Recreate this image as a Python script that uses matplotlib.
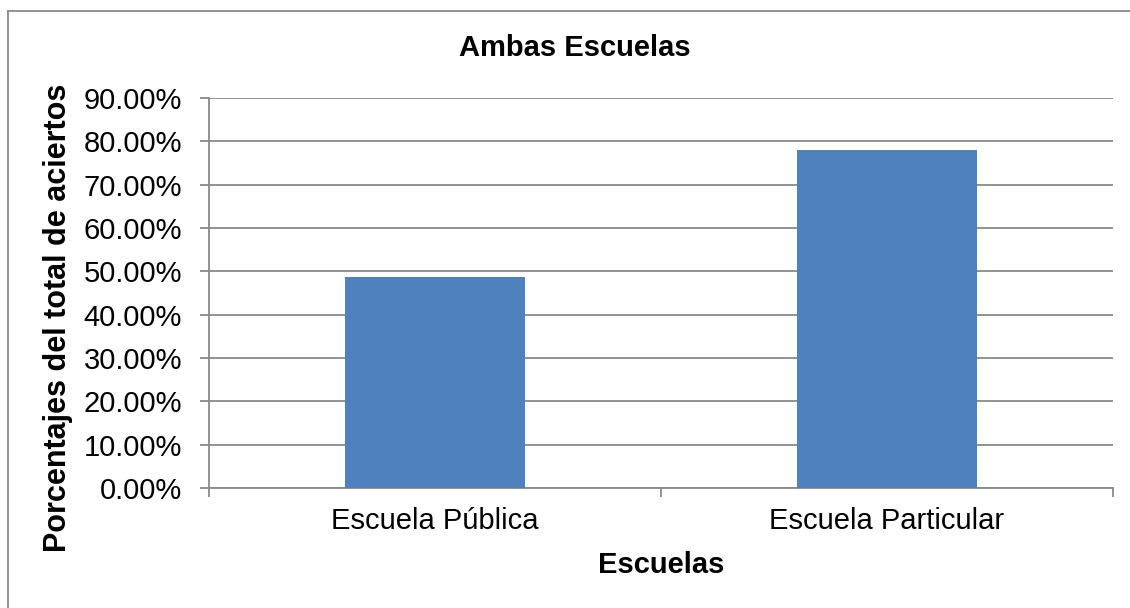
import numpy as np
import matplotlib.pyplot as plt
from matplotlib.lines import Line2D
from matplotlib.ticker import FuncFormatter, MultipleLocator

plt.rcParams['font.family'] = ['Liberation Sans', 'DejaVu Sans']

categories = ["Escuela Pública", "Escuela Particular"]
values = [48.7, 78.1]  # % del total de aciertos

W, H = 1130, 608
fig = plt.figure(figsize=(W / 100, H / 100), dpi=100)
ax = fig.add_axes([209 / W, 1 - 488 / H, (1113 - 209) / W, (488 - 98) / H])

# marco exterior (lados izquierdo y superior)
grey = "#898989"
fig.lines.append(Line2D([8 / W, 8 / W], [0, 1 - 11 / H], transform=fig.transFigure,
                        color=grey, linewidth=1.3))
fig.lines.append(Line2D([8 / W, 1], [1 - 11 / H, 1 - 11 / H], transform=fig.transFigure,
                        color=grey, linewidth=1.3))

x = np.arange(len(categories))
ax.bar(x, values, width=0.4, color="#4f81bd", zorder=3)

ax.set_xlim(-0.5, 1.5)
ax.set_ylim(0, 90)
ax.yaxis.set_major_locator(MultipleLocator(10))
ax.yaxis.set_major_formatter(FuncFormatter(lambda v, p: f"{v:.2f}%"))
ax.grid(axis="y", color=grey, linewidth=1.3, zorder=0)

ax.set_xticks([-0.5, 0.5, 1.5])
ax.set_xticklabels([])
ax.set_xticks(x, minor=True)
ax.set_xticklabels(categories, minor=True)
ax.tick_params(axis="x", which="minor", length=0, labelsize=21, pad=14)
ax.tick_params(axis="x", which="major", length=6.5, color=grey, width=1.3)
ax.tick_params(axis="y", length=6.5, color=grey, width=1.3, labelsize=21, pad=13)

for side in ["top", "right"]:
    ax.spines[side].set_visible(False)
for side in ["left", "bottom"]:
    ax.spines[side].set_color(grey)
    ax.spines[side].set_linewidth(1.3)

fig.text(575 / W, 1 - 48 / H, "Ambas Escuelas", fontsize=21, fontweight="bold",
         ha="center", va="center")
ax.set_xlabel("Escuelas", fontsize=21, fontweight="bold", va="center")
ax.xaxis.set_label_coords(0.5, (488 - 565) / (488 - 98))
ax.set_ylabel("Porcentajes del total de aciertos", fontsize=22, fontweight="bold", va="center")
ax.yaxis.set_label_coords((58 - 209) / (1113 - 209), (488 - 318) / (488 - 98))

fig.savefig("out.png", dpi=100)
